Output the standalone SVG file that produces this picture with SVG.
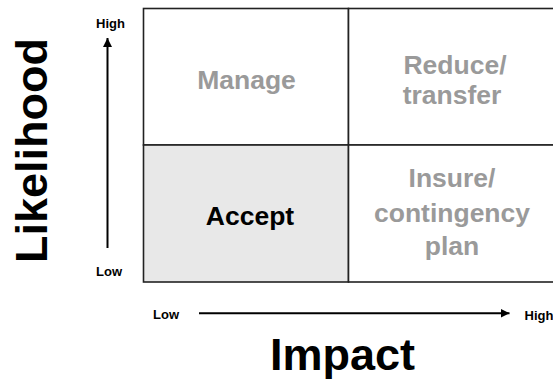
<svg xmlns="http://www.w3.org/2000/svg" width="553" height="381" viewBox="0 0 553 381">
  <style>
    text { font-family: "Liberation Sans", Arial, sans-serif; font-weight: bold; }
    .cell { fill: #ffffff; stroke: #222222; stroke-width: 1.6; }
    .accept { fill: #e8e8e8; }
    .q { font-size: 26.5px; fill: #9a9a9a; text-anchor: middle; }
    .qa { font-size: 26.5px; fill: #000000; text-anchor: middle; }
    .axis { font-size: 13px; fill: #000000; text-anchor: middle; }
    .title { font-size: 45px; fill: #000000; text-anchor: middle; }
    .arrow { stroke: #000000; stroke-width: 2; fill: none; }
  </style>
  <defs>
    <marker id="ah" viewBox="0 0 10 10" refX="10" refY="5" markerWidth="4.5" markerHeight="4.5" orient="auto" markerUnits="strokeWidth">
      <path d="M0,0 L10,5 L0,10 Z" fill="#000000"/>
    </marker>
  </defs>

  <rect width="553" height="381" fill="#ffffff"/>

  <g id="manage">
    <rect class="cell" x="143.5" y="8.5" width="205" height="136.5"/>
    <text class="q" x="246.5" y="88.5">Manage</text>
  </g>
  <g id="reduce-transfer">
    <rect class="cell" x="348.5" y="8.5" width="207" height="136.5"/>
    <text class="q" x="455" y="73.5">Reduce/</text>
    <text class="q" x="452" y="104">transfer</text>
  </g>
  <g id="accept">
    <rect class="cell accept" x="143.5" y="145" width="205" height="137"/>
    <text class="qa" x="250" y="224.5">Accept</text>
  </g>
  <g id="insure">
    <rect class="cell" x="348.5" y="145" width="207" height="137"/>
    <text class="q" x="452" y="187">Insure/</text>
    <text class="q" x="452" y="222">contingency</text>
    <text class="q" x="452" y="255">plan</text>
  </g>

  <g id="connectors">
    <line class="arrow" x1="107.5" y1="248" x2="107.5" y2="38" marker-end="url(#ah)"/>
    <line class="arrow" x1="199" y1="313.3" x2="509.5" y2="313.3" marker-end="url(#ah)"/>
  </g>

  <g id="axis-labels">
    <text class="axis" x="110.5" y="28.3">High</text>
    <text class="axis" x="109" y="276">Low</text>
    <text class="axis" x="166" y="318.5">Low</text>
    <text class="axis" x="539" y="319.5">High</text>
    <text class="title" x="46.5" y="150.5" transform="rotate(-90 46.5 150.5)">Likelihood</text>
    <text class="title" x="342.5" y="370">Impact</text>
  </g>
</svg>
